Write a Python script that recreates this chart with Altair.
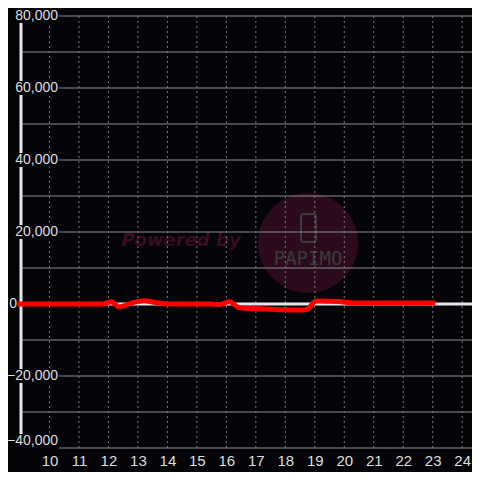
import altair as alt
import pandas as pd

# ---- data ----
hours = [9, 10, 11, 11.8, 12.1, 12.35, 12.8, 13.2, 13.6, 14, 15, 15.5, 15.75, 16.1,
         16.4, 16.6, 17, 18, 18.6, 18.75, 19.05, 19.8, 20.3, 21, 22, 23]
values = [0, 0, 0, 0, 600, -800, 300, 900, 400, 0, 0, 0, -200, 600,
          -900, -1200, -1250, -1600, -1700, -1400, 800, 700, 300, 300, 300, 300]

y_grid = list(range(-40000, 80001, 10000))
y_labels = [-40000, -20000, 0, 20000, 40000, 60000, 80000]
x_ticks = list(range(10, 25))

BG = "#050408"
X_DOM = [9, 24.333]
Y_DOM = [-40000, 80000]
W, H = 452, 432
PX_PER_Y = H / (Y_DOM[1] - Y_DOM[0])

def px_to_x(px):
    return X_DOM[0] + px * (X_DOM[1] - X_DOM[0]) / W

xs = alt.Scale(domain=X_DOM, nice=False, zero=False)
ys = alt.Scale(domain=Y_DOM, nice=False, zero=False)
x_axis = alt.Axis(values=x_ticks, grid=False, domain=False, ticks=False,
                  labelColor="#dddddd", labelFontSize=15, labelFont="Liberation Sans",
                  labelPadding=5, title=None, labelFlush=False)

line_df = pd.DataFrame({"h": hours, "v": values})
grid_df = pd.DataFrame({"v": y_grid})
vgrid_df = pd.DataFrame({"h": x_ticks})
lab_df = pd.DataFrame({"v": y_labels})
# bottom label sits just above the bottom edge, the others centred on their line
lab_df["ly"] = [v + (7 / PX_PER_Y if v == Y_DOM[0] else 0) for v in y_labels]
lab_df["lo"] = lab_df["ly"] - 7 / PX_PER_Y
lab_df["hi"] = lab_df["ly"] + 7 / PX_PER_Y
lab_df.loc[lab_df["v"] == Y_DOM[0], "lo"] = Y_DOM[0] - 2 / PX_PER_Y
lab_df["lx"] = [px_to_x(38 if v != 0 else -3) for v in y_labels]
lab_df["x1"] = [px_to_x(-12 if v != 0 else -13) for v in y_labels]
lab_df["x2"] = [px_to_x(39 if v != 0 else -2) for v in y_labels]

one = pd.DataFrame({"a": [1]})

# watermark (background decoration)
wm_circle = alt.Chart(one).mark_circle(
    size=10000, color="#2b0b1d", opacity=1
).encode(x=alt.value(288), y=alt.value(227))
wm_text = alt.Chart(pd.DataFrame({"t": ["Powered by"]})).mark_text(
    font="DejaVu Sans", fontSize=18, fontWeight="bold", fontStyle="italic",
    color="#3a0d20", align="center", baseline="middle"
).encode(x=alt.value(161), y=alt.value(225), text="t:N")
wm_logo = alt.Chart(pd.DataFrame({"t": ["PAPIMO"]})).mark_text(
    font="DejaVu Sans Mono", fontSize=19, color="#3c3c3c",
    align="center", baseline="middle"
).encode(x=alt.value(288), y=alt.value(243), text="t:N")
wm_phone = alt.Chart(one).mark_rect(
    fill=BG, fillOpacity=0, stroke="#3c3c3c", strokeWidth=2, cornerRadius=3
).encode(x=alt.value(281), x2=alt.value(296), y=alt.value(198), y2=alt.value(226))

hgrid = alt.Chart(grid_df).mark_rule(color="#8c8c8c", strokeWidth=1).encode(
    y=alt.Y("v:Q", scale=ys, axis=None),
    x=alt.value(0), x2=alt.value(W)
)
vgrid = alt.Chart(vgrid_df).mark_rule(color="#7a7a7a", strokeWidth=1, strokeDash=[2, 3]).encode(
    x=alt.X("h:Q", scale=xs, axis=x_axis),
    y=alt.value(0), y2=alt.value(H)
)
axis_line = alt.Chart(one).mark_rule(color="#e6e6e6", strokeWidth=3).encode(
    x=alt.value(1), y=alt.value(0), y2=alt.value(H)
)
zero_line = alt.Chart(pd.DataFrame({"v": [0]})).mark_rule(color="#e6e6e6", strokeWidth=3).encode(
    y=alt.Y("v:Q", scale=ys, axis=None), x=alt.value(0), x2=alt.value(W)
)
lab_bg = alt.Chart(lab_df).mark_rect(color=BG, clip=False).encode(
    x=alt.X("x1:Q", scale=xs, axis=x_axis), x2="x2:Q",
    y=alt.Y("lo:Q", scale=ys, axis=None), y2="hi:Q"
)
lab_txt = alt.Chart(lab_df).mark_text(
    align="right", baseline="middle", font="Liberation Sans", fontSize=14, color="#dddddd"
).encode(
    x=alt.X("lx:Q", scale=xs, axis=x_axis), y=alt.Y("ly:Q", scale=ys, axis=None),
    text=alt.Text("v:Q", format=",")
)
red = alt.Chart(line_df).mark_line(
    color="#ff0000", strokeWidth=5, interpolate="monotone", strokeCap="square"
).encode(
    x=alt.X("h:Q", scale=xs, axis=x_axis),
    y=alt.Y("v:Q", scale=ys, axis=None)
)

chart = alt.layer(
    wm_circle, wm_text, wm_logo, wm_phone,
    hgrid, vgrid, axis_line, zero_line, lab_bg, lab_txt, red
).properties(
    width=W, height=H, background=BG,
    padding={"left": 12, "top": 8, "right": 0, "bottom": 24},
    autosize=alt.AutoSizeParams(type="none")
).configure_view(stroke=None)

chart.save("out.html", embed_options={"renderer": "svg", "actions": False})
